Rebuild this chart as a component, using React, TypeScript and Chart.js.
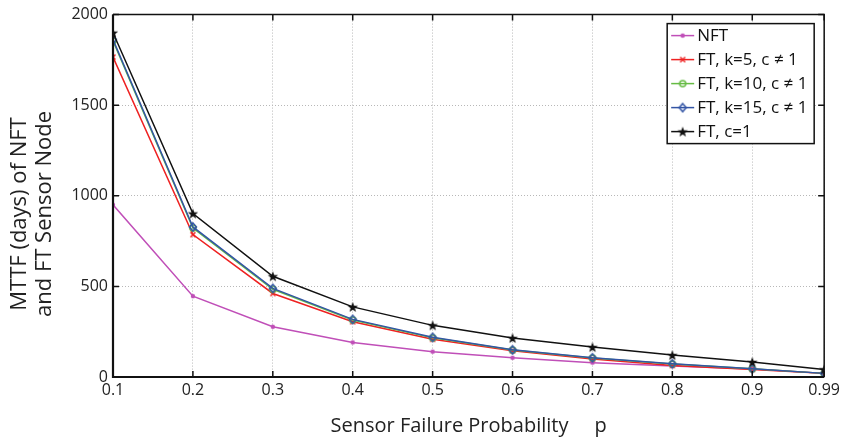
import React, { useEffect, useRef } from 'react';
import { Chart, registerables } from 'chart.js';

Chart.register(...registerables);

const probabilities = [0.1, 0.2, 0.3, 0.4, 0.5, 0.6, 0.7, 0.8, 0.9, 0.99];
const xTickValues = [0.1, 0.2, 0.3, 0.4, 0.5, 0.6, 0.7, 0.8, 0.9, 0.99];
const yTickValues = [0, 500, 1000, 1500, 2000];

const nftValues = [950, 446, 277, 191, 140, 106, 79, 61, 44, 20];
const ftK5Values = [1765, 786, 461, 305, 208, 145, 99, 64, 42, 20];
const ftK10Values = [1855, 822, 484, 315, 216, 149, 105, 72, 45, 20];
const ftK15Values = [1862, 828, 489, 318, 219, 150, 106, 73, 46, 20];
const ftC1Values = [1900, 902, 556, 387, 285, 215, 165, 121, 83, 42];

const seriesLabels = ['NFT', 'FT, k=5, c \u2260 1', 'FT, k=10, c \u2260 1', 'FT, k=15, c \u2260 1', 'FT, c=1'];
const seriesColors = ['#c04fb8', '#ee2222', '#66bb44', '#3355a5', '#111111'];
const seriesMarkers = ['dot', 'cross', 'circle', 'diamond', 'star'];

const yAxisTitle = ['MTTF (days) of NFT', 'and FT Sensor Node'];
const xAxisTitle = 'Sensor Failure Probability     p';

const FONT = "'Open Sans', 'DejaVu Sans', sans-serif";

function makeMarker(kind: string, color: string): HTMLCanvasElement {
  const size = 14;
  const c = document.createElement('canvas');
  c.width = size;
  c.height = size;
  const ctx = c.getContext('2d')!;
  const m = size / 2;
  ctx.strokeStyle = color;
  ctx.fillStyle = color;
  ctx.lineWidth = 1.5;
  if (kind === 'dot') {
    ctx.beginPath();
    ctx.arc(m, m, 2.2, 0, Math.PI * 2);
    ctx.fill();
  } else if (kind === 'cross') {
    ctx.beginPath();
    ctx.moveTo(m - 2.5, m - 2.5);
    ctx.lineTo(m + 2.5, m + 2.5);
    ctx.moveTo(m + 2.5, m - 2.5);
    ctx.lineTo(m - 2.5, m + 2.5);
    ctx.stroke();
  } else if (kind === 'circle') {
    ctx.beginPath();
    ctx.arc(m, m, 3, 0, Math.PI * 2);
    ctx.stroke();
  } else if (kind === 'diamond') {
    ctx.beginPath();
    ctx.moveTo(m, m - 4);
    ctx.lineTo(m + 3.5, m);
    ctx.lineTo(m, m + 4);
    ctx.lineTo(m - 3.5, m);
    ctx.closePath();
    ctx.stroke();
  } else if (kind === 'star') {
    ctx.beginPath();
    for (let i = 0; i < 10; i++) {
      const r = i % 2 === 0 ? 5.5 : 2.3;
      const a = -Math.PI / 2 + (i * Math.PI) / 5;
      const px = m + r * Math.cos(a);
      const py = m + 0.5 + r * Math.sin(a);
      if (i === 0) ctx.moveTo(px, py);
      else ctx.lineTo(px, py);
    }
    ctx.closePath();
    ctx.fill();
  }
  return c;
}

export default function App() {
  const canvasRef = useRef<HTMLCanvasElement | null>(null);

  useEffect(() => {
    const canvas = canvasRef.current;
    if (!canvas) return;
    const markers = seriesColors.map((col, i) => makeMarker(seriesMarkers[i], col));
    const seriesValues = [nftValues, ftK5Values, ftK10Values, ftK15Values, ftC1Values];

    const datasets = seriesValues.map((vals, i) => ({
      label: seriesLabels[i],
      data: probabilities.map((p, j) => ({ x: p, y: vals[j] })),
      borderColor: seriesColors[i],
      backgroundColor: seriesColors[i],
      borderWidth: 1.5,
      pointStyle: markers[i] as any,
      pointRadius: 5,
      pointHoverRadius: 5,
      tension: 0,
      order: 5 - i,
    }));

    const frameAndLegend = {
      id: 'frameAndLegend',
      afterDraw(chart: any) {
        const { ctx, chartArea } = chart;
        const { left, right, top, bottom } = chartArea;
        const xs = chart.scales.x;
        const ys = chart.scales.y;
        ctx.save();
        // inward tick marks
        ctx.strokeStyle = '#111';
        ctx.lineWidth = 1.5;
        ctx.beginPath();
        xTickValues.forEach((v) => {
          const px = xs.getPixelForValue(v);
          ctx.moveTo(px, bottom);
          ctx.lineTo(px, bottom - 6);
          ctx.moveTo(px, top);
          ctx.lineTo(px, top + 6);
        });
        yTickValues.forEach((v) => {
          const py = ys.getPixelForValue(v);
          ctx.moveTo(left, py);
          ctx.lineTo(left + 6, py);
          ctx.moveTo(right, py);
          ctx.lineTo(right - 6, py);
        });
        ctx.stroke();
        // frame
        ctx.lineWidth = 1.5;
        ctx.beginPath();
        ctx.moveTo(left, top);
        ctx.lineTo(right, top);
        ctx.lineTo(right, bottom);
        ctx.stroke();
        ctx.lineWidth = 2.2;
        ctx.beginPath();
        ctx.moveTo(left, top);
        ctx.lineTo(left, bottom);
        ctx.lineTo(right, bottom);
        ctx.stroke();

        // legend
        const bw = 147;
        const bh = 120;
        const bx = right - 10 - bw;
        const by = top + 9;
        ctx.fillStyle = '#ffffff';
        ctx.fillRect(bx, by, bw, bh);
        ctx.strokeStyle = '#111';
        ctx.lineWidth = 1.5;
        ctx.strokeRect(bx, by, bw, bh);
        ctx.font = `17px ${FONT}`;
        ctx.textBaseline = 'middle';
        ctx.textAlign = 'left';
        chart.data.datasets.forEach((ds: any, i: number) => {
          const cy = by + 12 + i * 24;
          ctx.strokeStyle = ds.borderColor;
          ctx.lineWidth = 1.5;
          ctx.beginPath();
          ctx.moveTo(bx + 4, cy);
          ctx.lineTo(bx + 27, cy);
          ctx.stroke();
          const mk = markers[i];
          ctx.drawImage(mk, bx + 15.5 - mk.width / 2, cy - mk.height / 2);
          ctx.fillStyle = '#111';
          ctx.fillText(ds.label, bx + 30, cy + 1);
        });

        // y axis title (two lines, rotated)
        ctx.fillStyle = '#222';
        ctx.font = `22px ${FONT}`;
        ctx.textAlign = 'center';
        ctx.textBaseline = 'alphabetic';
        ctx.translate(0, 214);
        ctx.rotate(-Math.PI / 2);
        ctx.fillText(yAxisTitle[0], 0, 26);
        ctx.fillText(yAxisTitle[1], 0, 51);
        ctx.restore();
      },
    };

    const chart = new Chart(canvas, {
      type: 'line',
      data: { datasets: datasets as any },
      options: {
        animation: false,
        responsive: false,
        devicePixelRatio: 1,
        layout: { padding: { left: 0, right: 16, top: 14, bottom: 0 } },
        plugins: {
          legend: { display: false },
          tooltip: { enabled: false },
        },
        scales: {
          x: {
            type: 'linear',
            min: 0.1,
            max: 0.99,
            afterBuildTicks: (scale: any) => {
              scale.ticks = xTickValues.map((v) => ({ value: v }));
            },
            afterFit: (scale: any) => {
              scale.height = 63;
            },
            ticks: {
              autoSkip: false,
              maxRotation: 0,
              padding: 4,
              color: '#222',
              font: { family: FONT, size: 16 },
              callback: (v: any) => String(v),
            },
            grid: { color: '#b8b8b8', drawTicks: false, lineWidth: 1 },
            border: { display: false, dash: [1, 2] },
            title: {
              display: true,
              text: xAxisTitle,
              color: '#222',
              font: { family: FONT, size: 20 },
              padding: { top: 0, bottom: 2 },
            },
          },
          y: {
            type: 'linear',
            min: 0,
            max: 2000,
            afterBuildTicks: (scale: any) => {
              scale.ticks = yTickValues.map((v) => ({ value: v }));
            },
            afterFit: (scale: any) => {
              scale.width = 113;
            },
            ticks: {
              padding: 5,
              color: '#222',
              font: { family: FONT, size: 16 },
              callback: (v: any) => String(v),
            },
            grid: { color: '#b8b8b8', drawTicks: false, lineWidth: 1 },
            border: { display: false, dash: [1, 2] },
          },
        },
      },
      plugins: [frameAndLegend],
    });

    return () => chart.destroy();
  }, []);

  return (
    <div style={{ position: 'absolute', left: 0, top: 0, width: 844, height: 440, background: '#fff' }}>
      <canvas ref={canvasRef} width={844} height={440} />
    </div>
  );
}
